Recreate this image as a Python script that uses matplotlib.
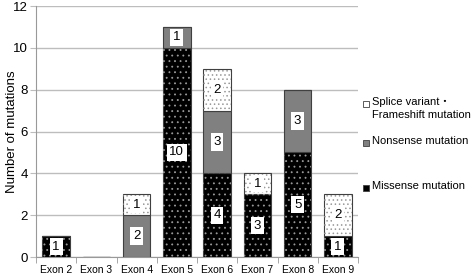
import numpy as np
import matplotlib
matplotlib.use("Agg")
import matplotlib.pyplot as plt
from matplotlib.patches import Rectangle

plt.rcParams['font.family'] = ['Liberation Sans', 'Noto Sans CJK JP', 'DejaVu Sans']
plt.rcParams['hatch.linewidth'] = 0.6

# ===============================
# DATA
# ===============================
exons = ["Exon 2", "Exon 3", "Exon 4", "Exon 5", "Exon 6", "Exon 7", "Exon 8", "Exon 9"]
missense = [1, 0, 0, 10, 4, 3, 5, 1]
nonsense = [0, 0, 2, 1, 3, 0, 3, 0]
splice = [0, 0, 1, 0, 2, 1, 0, 2]

series_names = ["Splice variant\u30fb\nFrameshift mutation", "Nonsense mutation", "Missense mutation"]

# style per series: face, hatch colour, hatch
STYLES = {
    "missense": ("#000000", "#999999", "..."),
    "nonsense": ("#808080", None, None),
    "splice": ("#ffffff", "#999999", "...."),
}

fig = plt.figure(figsize=(4.72, 2.75), dpi=100)
ax = fig.add_axes([36 / 472, 1 - 257 / 275, (358 - 36) / 472, (257 - 6) / 275])

x = np.arange(len(exons))
width = 0.68


def stacked(vals, bottom, face, hatch_col, hatch):
    vals = np.array(vals, dtype=float)
    ax.bar(x, vals, width, bottom=bottom, color=face, edgecolor="#404040",
           linewidth=0.8, zorder=3)
    if hatch_col is not None:
        ax.bar(x, vals, width, bottom=bottom, fill=False, hatch=hatch,
               edgecolor=hatch_col, linewidth=0, zorder=4)
    for xi, v, b in zip(x, vals, bottom):
        if v > 0:
            ax.text(xi, b + v / 2, str(int(v)), ha="center", va="center",
                    fontsize=9.5, zorder=6,
                    bbox=dict(boxstyle="square,pad=0.2", fc="white", ec="none"))
    return bottom + vals


bottom = np.zeros(len(exons))
bottom = stacked(missense, bottom, *STYLES["missense"])
bottom = stacked(nonsense, bottom, *STYLES["nonsense"])
bottom = stacked(splice, bottom, *STYLES["splice"])

ax.set_xlim(-0.5, len(exons) - 0.5)
ax.set_ylim(0, 12)
ax.set_yticks(range(0, 13, 2))
ax.yaxis.grid(True, color="#bdbdbd", linewidth=1, zorder=0)
ax.set_axisbelow(True)

ax.set_xticks(x)
ax.set_xticklabels(exons, fontsize=7.5)
ax.set_xticks(np.arange(-0.5, len(exons), 1), minor=True)
ax.tick_params(axis="x", which="major", length=0, pad=6)
ax.tick_params(axis="x", which="minor", length=4, color="#999999")
ax.tick_params(axis="y", length=4, color="#bdbdbd", labelsize=9.5, pad=2)

for s in ["top", "right"]:
    ax.spines[s].set_visible(False)
for s in ["left", "bottom"]:
    ax.spines[s].set_color("#999999")

ax.set_ylabel("Number of mutations", fontsize=9.5)
ax.yaxis.set_label_coords(-0.056, 0.5)

# ===============================
# LEGEND (placed by hand like the original)
# ===============================
leg_y = [104, 143, 188]
leg_keys = ["splice", "nonsense", "missense"]
for name, key, yp in zip(series_names, leg_keys, leg_y):
    face = STYLES[key][0]
    fx = 363 / 472
    fy = 1 - (yp + 3) / 275
    fig.patches.append(Rectangle((fx, fy), 6 / 472, 6 / 275, transform=fig.transFigure,
                                 facecolor=face, edgecolor="#404040", linewidth=0.6))
    fig.text(372 / 472, 1 - (yp - 7) / 275, name, fontsize=8, va="top", ha="left",
             linespacing=1.35)

fig.savefig("out.png", dpi=100)
